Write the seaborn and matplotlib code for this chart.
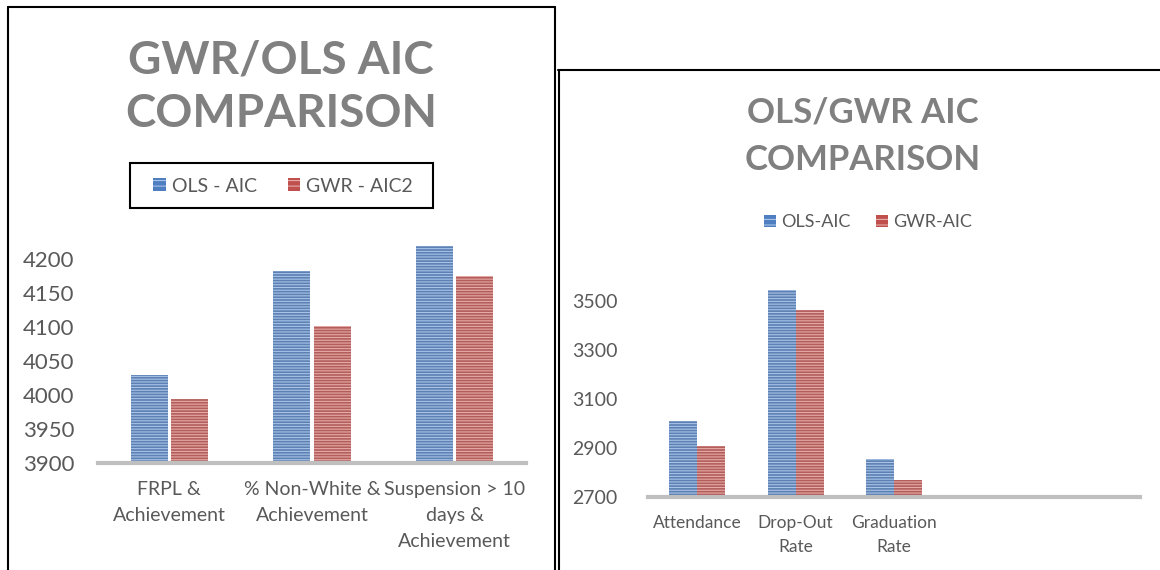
import matplotlib
matplotlib.use('Agg')
import matplotlib.pyplot as plt
import seaborn as sns
import pandas as pd
from matplotlib.patches import Patch, Rectangle
from matplotlib.lines import Line2D

# ---- data ----
left_categories = ['FRPL &\nAchievement', '% Non-White &\nAchievement', 'Suspension > 10\ndays &\nAchievement']
left_ols = [4029, 4183, 4220]
left_gwr = [3994, 4101, 4175]
left_series = ['OLS - AIC', 'GWR - AIC2']
left_ticks = [3900, 3950, 4000, 4050, 4100, 4150, 4200]

right_categories = ['Attendance', 'Drop-Out\nRate', 'Graduation\nRate']
right_ols = [3008, 3544, 2856]
right_gwr = [2906, 3462, 2769]
right_series = ['OLS-AIC', 'GWR-AIC']
right_ticks = [2700, 2900, 3100, 3300, 3500]

df_left = pd.DataFrame({
    'category': left_categories * 2,
    'value': left_ols + left_gwr,
    'model': [left_series[0]] * 3 + [left_series[1]] * 3,
})
df_right = pd.DataFrame({
    'category': right_categories * 2,
    'value': right_ols + right_gwr,
    'model': [right_series[0]] * 3 + [right_series[1]] * 3,
})

# ---- style ----
sns.set_style('white')
plt.rcParams['font.family'] = ['Lato', 'DejaVu Sans']
plt.rcParams['hatch.linewidth'] = 0.8

blue = '#4f7fc0'
red = '#c0504d'
blue_hatch = '#a8c2e8'
red_hatch = '#e6aaa8'
txt = '#595959'
title_col = '#808080'
HATCH = '------'

W, H = 1160, 570
fig = plt.figure(figsize=(W / 100, H / 100), dpi=100)


def fx(px):
    return px / W


def fy(py):
    return 1 - py / H


def style_bars(ax):
    for cont, hc in zip(ax.containers, [blue_hatch, red_hatch]):
        for bar in cont:
            bar.set_hatch(HATCH)
            bar.set_edgecolor(hc)
            bar.set_linewidth(0)


def style_axes(ax, ticks, labsize, ypad):
    sns.despine(ax=ax, left=True, top=True, right=True)
    ax.spines['bottom'].set_color('#bfbfbf')
    ax.spines['bottom'].set_linewidth(3)
    ax.set_yticks(ticks)
    ax.tick_params(axis='both', length=0, colors=txt)
    ax.tick_params(axis='y', labelsize=labsize, pad=ypad)
    ax.set_xlabel('')
    ax.set_ylabel('')


# ---- left chart ----
axl = fig.add_axes([fx(98), fy(463), fx(526) - fx(98), (463 - 232) / H])
sns.barplot(data=df_left, x='category', y='value', hue='model',
            palette=[blue, red], width=0.57, gap=0.09, ax=axl, legend=False)
style_bars(axl)
axl.set_ylim(3900, 4240)
style_axes(axl, left_ticks, 16, 17)
axl.tick_params(axis='x', labelsize=14, pad=13)
for lab in axl.get_xticklabels():
    lab.set_linespacing(1.65)
    lab.set_verticalalignment('top')

fig.text(fx(281), fy(61), 'GWR/OLS AIC', ha='center', va='center',
         fontsize=33, fontweight='bold', color=title_col)
fig.text(fx(281), fy(114), 'COMPARISON', ha='center', va='center',
         fontsize=33, fontweight='bold', color=title_col)

hl = [Patch(facecolor=blue, edgecolor=blue_hatch, hatch='---', linewidth=0, label=left_series[0]),
      Patch(facecolor=red, edgecolor=red_hatch, hatch='---', linewidth=0, label=left_series[1])]
fig.legend(handles=hl, loc='center', bbox_to_anchor=(fx(283), fy(186)), ncol=2,
           frameon=False, fontsize=14, labelcolor=txt, handlelength=0.65,
           handleheight=0.65, handletextpad=0.3, columnspacing=1.6)
fig.add_artist(Rectangle((fx(130), fy(208)), fx(433) - fx(130), (208 - 163) / H,
                         transform=fig.transFigure, fill=False, edgecolor='black', linewidth=1.5))

# ---- right chart ----
axr = fig.add_axes([fx(648), fy(497), fx(1140) - fx(648), (497 - 276) / H])
sns.barplot(data=df_right, x='category', y='value', hue='model',
            palette=[blue, red], width=0.57, ax=axr, legend=False)
style_bars(axr)
axr.set_xlim(-0.5, 4.5)
axr.set_ylim(2700, 3600)
style_axes(axr, right_ticks, 14, 22)
axr.tick_params(axis='x', labelsize=12.5, pad=13)
for lab in axr.get_xticklabels():
    lab.set_linespacing(1.6)
    lab.set_verticalalignment('top')

fig.text(fx(863), fy(113), 'OLS/GWR AIC', ha='center', va='center',
         fontsize=25, fontweight='bold', color=title_col)
fig.text(fx(863), fy(160), 'COMPARISON', ha='center', va='center',
         fontsize=25, fontweight='bold', color=title_col)

hr = [Patch(facecolor=blue, edgecolor=blue_hatch, hatch='---', linewidth=0, label=right_series[0]),
      Patch(facecolor=red, edgecolor=red_hatch, hatch='---', linewidth=0, label=right_series[1])]
fig.legend(handles=hr, loc='center', bbox_to_anchor=(fx(868), fy(222)), ncol=2,
           frameon=False, fontsize=13, labelcolor=txt, handlelength=0.65,
           handleheight=0.65, handletextpad=0.3, columnspacing=1.4)

# ---- panel borders ----
fig.add_artist(Line2D([fx(8), fx(555)], [fy(7), fy(7)], color='black', lw=1.5))
fig.add_artist(Line2D([fx(8), fx(8)], [fy(7), 0], color='black', lw=1.5))
fig.add_artist(Line2D([fx(555), fx(555)], [fy(7), 0], color='black', lw=1.5))
fig.add_artist(Line2D([fx(558), 1], [fy(70), fy(70)], color='black', lw=1.5))
fig.add_artist(Line2D([fx(559), fx(559)], [fy(70), 0], color='black', lw=1.5))

fig.savefig('out.png', dpi=100)
